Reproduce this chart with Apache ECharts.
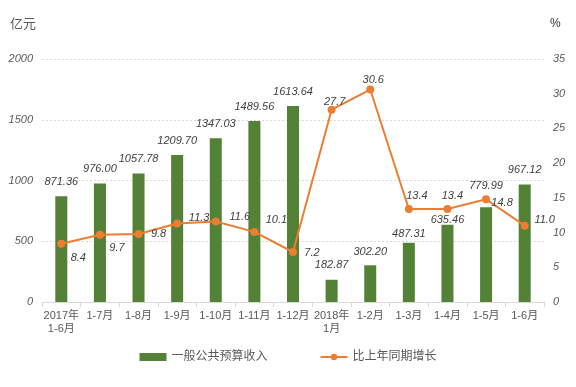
<!DOCTYPE html>
<html><head><meta charset="utf-8">
<script src="https://cdn.jsdelivr.net/npm/echarts@6/dist/echarts.min.js"></script>
<style>html,body{margin:0;padding:0;background:#fff}#c{width:576px;height:387px}</style>
</head><body><div id="c"></div>
<script>
var categories = ['2017年\n1-6月','1-7月','1-8月','1-9月','1-10月','1-11月','1-12月','2018年\n1月','1-2月','1-3月','1-4月','1-5月','1-6月'];
var revenue = [871.36, 976.00, 1057.78, 1209.70, 1347.03, 1489.56, 1613.64, 182.87, 302.20, 487.31, 635.46, 779.99, 967.12];
var growth = [8.4, 9.7, 9.8, 11.3, 11.6, 10.1, 7.2, 27.7, 30.6, 13.4, 13.4, 14.8, 11.0];
var leftTicks = [0, 500, 1000, 1500, 2000];
var rightTicks = [0, 5, 10, 15, 20, 25, 30, 35];

// label offsets (layout only)
var barLabelDist = [9,9,9,9,9,9,9,9,8,3,-1,16,9];
var lineLabelOff = [[17,14],[17,13],[20,0],[22,-6],[24,-5],[22,-12],[19,1],[3,-8],[3,-10],[8,-13],[5,-13],[16,4],[20,-6]];

var font = 'Liberation Sans, Noto Sans CJK SC, sans-serif';
var chart = echarts.init(document.getElementById('c'));
chart.setOption({
  animation: false,
  grid: {left: 42, right: 32, top: 59, bottom: 85},
  legend: {
    bottom: 19, left: 'center', itemGap: 52, itemWidth: 27, itemHeight: 8,
    textStyle: {fontSize: 12, color: '#595959', fontFamily: font},
    data: [{name: '一般公共预算收入', icon: 'rect'}, {name: '比上年同期增长'}]
  },
  graphic: [
    {type: 'text', left: 10, top: 18, style: {text: '亿元', fontSize: 13, fill: '#595959', fontFamily: font}},
    {type: 'text', left: 550, top: 18, style: {text: '%', fontSize: 12, fill: '#333', fontFamily: font}}
  ],
  xAxis: {
    type: 'category', data: categories,
    axisLine: {lineStyle: {color: '#d9d9d9'}},
    axisTick: {show: true, length: 5, lineStyle: {color: '#d9d9d9'}},
    axisLabel: {color: '#595959', fontSize: 11, fontFamily: font, margin: 7, lineHeight: 13, interval: 0}
  },
  yAxis: [{
    type: 'value', min: leftTicks[0], max: leftTicks[leftTicks.length-1], interval: 500,
    axisLine: {show: false}, axisTick: {show: false},
    axisLabel: {color: '#595959', fontSize: 11, fontStyle: 'italic', fontFamily: font, margin: 9,
      formatter: function (v) { return String(v); }},
    splitLine: {lineStyle: {color: '#d9d9d9', type: [2, 2]}}
  }, {
    type: 'value', min: rightTicks[0], max: rightTicks[rightTicks.length-1], interval: 5,
    axisLine: {show: false}, axisTick: {show: false},
    axisLabel: {color: '#595959', fontSize: 11, fontStyle: 'italic', fontFamily: font, margin: 9},
    splitLine: {show: false}
  }],
  series: [{
    name: '一般公共预算收入', type: 'bar', barWidth: 12,
    itemStyle: {color: '#538135'},
    data: revenue.map(function (v, i) {
      return {value: v, label: {distance: barLabelDist[i]}};
    }),
    label: {show: true, position: 'top', color: '#404040', fontSize: 11, fontStyle: 'italic', fontFamily: font,
      formatter: function (p) { return p.value.toFixed(2); }}
  }, {
    name: '比上年同期增长', type: 'line', yAxisIndex: 1,
    symbol: 'circle', symbolSize: 8,
    lineStyle: {color: '#ED7D31', width: 2},
    itemStyle: {color: '#ED7D31'},
    data: growth.map(function (v, i) {
      return {value: v, label: {offset: lineLabelOff[i]}};
    }),
    label: {show: true, position: 'inside', align: 'center', verticalAlign: 'middle',
      color: '#404040', fontSize: 11, fontStyle: 'italic', fontFamily: font,
      formatter: function (p) { return p.value.toFixed(1); }}
  }]
});
</script></body></html>
